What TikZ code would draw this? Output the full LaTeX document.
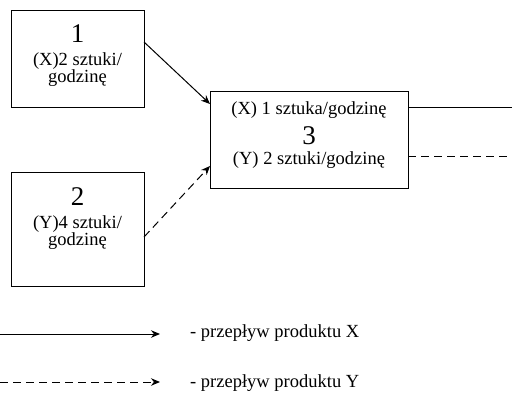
\documentclass[tikz,border=0pt]{standalone}
\usepackage{fontspec}
\setmainfont{Liberation Serif}
\usetikzlibrary{arrows.meta}
\begin{document}
\begin{tikzpicture}[x=1pt,y=-1pt,
  box/.style={draw,line width=0.9pt,inner sep=0pt},
  small/.style={font=\fontsize{18.5}{22}\selectfont,inner sep=0pt,anchor=base},
  big/.style={font=\fontsize{27}{30}\selectfont,inner sep=0pt,anchor=base},
  flow/.style={line width=1pt,-{Stealth[length=9pt,width=7.5pt]}},
  flowy/.style={flow,dash pattern=on 8pt off 5pt},
  plain/.style={line width=1pt},
  plainy/.style={plain,dash pattern=on 8pt off 5pt}]
\useasboundingbox (0,0) rectangle (512,394);
% boxes
\node[box,minimum width=133pt,minimum height=97pt] (b1) at (77.5,58.5) {};
\node[box,minimum width=133pt,minimum height=114pt] (b2) at (77.5,229) {};
\node[box,minimum width=198pt,minimum height=97pt] (b3) at (309,139.5) {};
% texts box 1
\node[big] (t1) at (77.5,42) {1};
\node[small] (t1a) at (77.5,65.5) {(X)2 sztuki/};
\node[small] (t1b) at (77.5,82.5) {godzinę};
% texts box 2
\node[big] (t2) at (77.5,205) {2};
\node[small] (t2a) at (77.5,228) {(Y)4 sztuki/};
\node[small] (t2b) at (77.5,245) {godzinę};
% texts box 3
\node[small] (t3a) at (309,114) {(X) 1 sztuka/godzinę};
\node[big] (t3) at (309,144) {3};
\node[small] (t3b) at (309,164.5) {(Y) 2 sztuki/godzinę};
% connectors
\coordinate (s1) at (144,42);
\coordinate (e1) at (210,104);
\coordinate (s2) at (144,237);
\coordinate (e2) at (210,166);
\draw[flow] (s1) -- (e1);
\draw[flowy] (s2) -- (e2);
\coordinate (o1) at (408,107);
\coordinate (o1e) at (512,107);
\coordinate (o2) at (408,156);
\coordinate (o2e) at (512,156);
\draw[plain] (o1) -- (o1e);
\draw[plainy] (o2) -- (o2e);
% legend
\coordinate (lx0) at (0,334);
\coordinate (lx1) at (160,334);
\coordinate (ly0) at (0,382);
\coordinate (ly1) at (160,382);
\draw[flow] (lx0) -- (lx1);
\draw[flowy] (ly0) -- (ly1);
\node[small,anchor=base west] (lxt) at (190,337) {- przepływ produktu X};
\node[small,anchor=base west] (lyt) at (190,387) {- przepływ produktu Y};
\end{tikzpicture}
\end{document}
